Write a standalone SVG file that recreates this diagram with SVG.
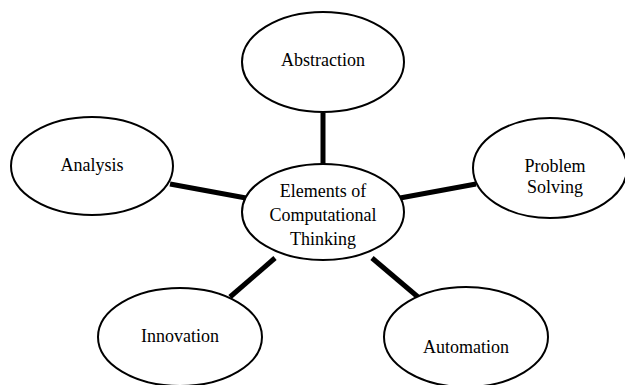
<svg xmlns="http://www.w3.org/2000/svg" width="625" height="385" viewBox="0 0 625 385">
  <style>
    .node { fill: #ffffff; stroke: #000000; stroke-width: 2; }
    .label { font-family: "Liberation Serif", "Times New Roman", serif; font-size: 18px; fill: #000000; text-anchor: middle; }
    .link { stroke: #000000; stroke-width: 5; fill: none; }
  </style>
  <rect width="625" height="385" fill="#ffffff"/>

  <!-- spokes joining the hub to each element -->
  <g id="connectors">
    <line class="link" x1="323" y1="113" x2="323" y2="164"/>
    <line class="link" x1="170" y1="184" x2="246" y2="198"/>
    <line class="link" x1="400" y1="198" x2="476" y2="184"/>
    <line class="link" x1="230" y1="297" x2="275" y2="258"/>
    <line class="link" x1="372" y1="258" x2="418" y2="297"/>
  </g>

  <g id="hub">
    <ellipse class="node" cx="323" cy="212" rx="81" ry="48"/>
    <text class="label" x="323" y="197">Elements of</text>
    <text class="label" x="323" y="221">Computational</text>
    <text class="label" x="323" y="245">Thinking</text>
  </g>

  <g id="abstraction">
    <ellipse class="node" cx="323" cy="62" rx="81" ry="50"/>
    <text class="label" x="323" y="66">Abstraction</text>
  </g>

  <g id="analysis">
    <ellipse class="node" cx="92" cy="166" rx="81" ry="49"/>
    <text class="label" x="92" y="171">Analysis</text>
  </g>

  <g id="problem-solving">
    <ellipse class="node" cx="550" cy="168" rx="77" ry="50"/>
    <text class="label" x="555" y="172">Problem</text>
    <text class="label" x="555" y="193">Solving</text>
  </g>

  <g id="innovation">
    <ellipse class="node" cx="180" cy="337" rx="82" ry="49"/>
    <text class="label" x="180" y="342">Innovation</text>
  </g>

  <g id="automation">
    <ellipse class="node" cx="466" cy="337" rx="82" ry="50"/>
    <text class="label" x="466" y="353">Automation</text>
  </g>
</svg>
